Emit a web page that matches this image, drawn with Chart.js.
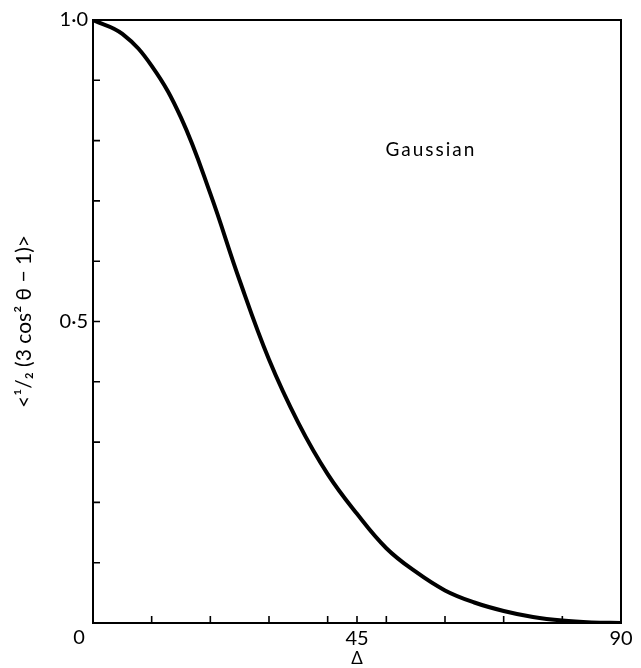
<!DOCTYPE html>
<html>
<head>
<meta charset="utf-8">
<script src="https://cdn.jsdelivr.net/npm/chart.js@4.4.1/dist/chart.umd.min.js"></script>
<style>
  html, body { margin: 0; padding: 0; background: #fff; }
  #wrap { width: 641px; height: 668px; }
</style>
</head>
<body>
<div id="wrap"><canvas id="chart"></canvas></div>
<script>
// Width of the Gaussian distribution (degrees) and the order parameter
const deltaDeg = [0, 5, 10, 15, 20, 25, 30, 35, 40, 45, 50, 55, 60, 65, 70, 75, 80, 85, 90];
const orderParam = [1.0, 0.977, 0.924, 0.838, 0.712, 0.568, 0.437, 0.332, 0.247, 0.181,
                    0.124, 0.085, 0.054, 0.034, 0.020, 0.010, 0.004, 0.001, 0.0];

// Tick marks and labels
const xTickMarks = [10, 20, 30, 40, 45, 50, 60, 70, 80];
const yTickMarks = [0.1, 0.2, 0.3, 0.4, 0.5, 0.6, 0.7, 0.8, 0.9];
const xTickLabels = { 45: "45", 90: "90" };
const yTickLabels = { 0.5: "0·5", 1: "1·0" };
const curveLabel = { text: "Gaussian", x: 57.6, y: 0.784 };

const FONT = "Lato, 'DejaVu Sans', sans-serif";

// Draws the frame, inward tick marks, the corner "0" and the curve label
const framePlugin = {
  id: "frame",
  afterDraw(chart) {
    const { ctx, chartArea: a, scales } = chart;
    const xs = scales.x, ys = scales.y;
    ctx.save();
    ctx.strokeStyle = "#000";
    ctx.lineWidth = 2;
    ctx.strokeRect(a.left, a.top, a.right - a.left, a.bottom - a.top);

    ctx.lineWidth = 1.6;
    ctx.beginPath();
    yTickMarks.forEach(v => {
      const py = ys.getPixelForValue(v);
      ctx.moveTo(a.left, py);
      ctx.lineTo(a.left + 7, py);
    });
    xTickMarks.forEach(v => {
      const px = xs.getPixelForValue(v);
      ctx.moveTo(px, a.bottom);
      ctx.lineTo(px, a.bottom - 7);
    });
    ctx.stroke();

    ctx.fillStyle = "#000";
    ctx.font = "20px " + FONT;
    ctx.textAlign = "center";
    ctx.textBaseline = "middle";
    ctx.fillText("0", a.left - 14, a.bottom + 15);

    ctx.font = "19px " + FONT;
    ctx.letterSpacing = "2px";
    ctx.fillText(curveLabel.text, xs.getPixelForValue(curveLabel.x), ys.getPixelForValue(curveLabel.y));
    ctx.restore();
  }
};

const ctx = document.getElementById("chart").getContext("2d");

new Chart(ctx, {
  type: "line",
  data: {
    datasets: [{
      data: deltaDeg.map((d, i) => ({ x: d, y: orderParam[i] })),
      borderColor: "#000",
      borderWidth: 4,
      pointRadius: 0,
      tension: 0.4,
      fill: false
    }]
  },
  options: {
    responsive: true,
    maintainAspectRatio: false,
    animation: false,
    layout: { padding: { top: 20, right: 20, left: 0, bottom: 0 } },
    plugins: { legend: { display: false }, tooltip: { enabled: false } },
    scales: {
      x: {
        type: "linear",
        min: 0,
        max: 90,
        grid: { display: false, drawTicks: false },
        border: { display: false },
        afterFit(scale) { scale.height = 45; },
        ticks: {
          stepSize: 45,
          padding: 4,
          maxRotation: 0,
          color: "#000",
          font: { family: FONT, size: 20 },
          callback: v => xTickLabels[v] || ""
        },
        title: {
          display: true,
          text: "Δ",
          color: "#000",
          padding: { top: 0, bottom: 1 },
          font: { family: FONT, size: 17, lineHeight: 1 }
        }
      },
      y: {
        min: 0,
        max: 1,
        grid: { display: false, drawTicks: false },
        border: { display: false },
        afterFit(scale) { scale.width = 93; },
        ticks: {
          stepSize: 0.1,
          padding: 5,
          autoSkip: false,
          color: "#000",
          font: { family: FONT, size: 20 },
          callback: v => yTickLabels[Math.round(v * 10) / 10] || ""
        },
        title: {
          display: true,
          text: "<¹/₂ (3 cos² θ − 1)>",
          color: "#000",
          padding: { top: 12, bottom: 0 },
          font: { family: FONT, size: 21 }
        }
      }
    }
  },
  plugins: [framePlugin]
});
</script>
</body>
</html>
